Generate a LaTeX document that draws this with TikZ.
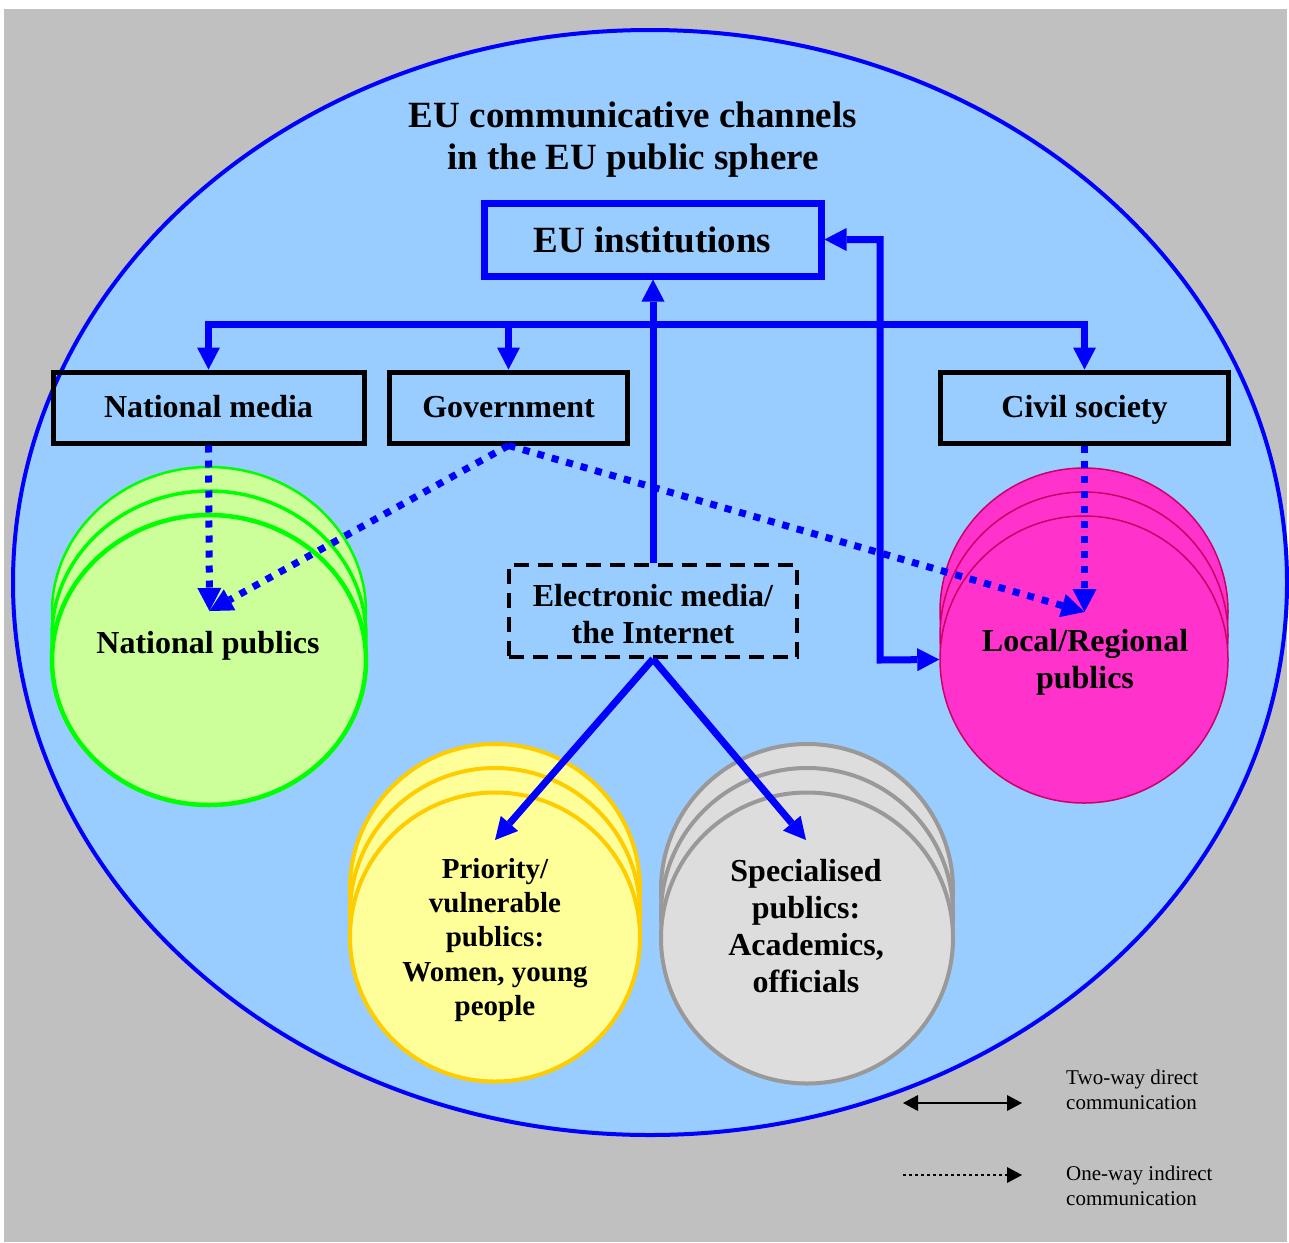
\documentclass[tikz,border=0pt]{standalone}
\usepackage{fontspec}
\setmainfont{Liberation Serif}
\usetikzlibrary{arrows.meta,shapes.geometric}
\definecolor{bggray}{HTML}{C0C0C0}
\definecolor{skyfill}{HTML}{99CCFF}
\definecolor{eublue}{HTML}{0000FF}
\definecolor{grfill}{HTML}{CCFF99}
\definecolor{grline}{HTML}{00FF00}
\definecolor{mgfill}{HTML}{FF33CC}
\definecolor{mgline}{HTML}{CC0066}
\definecolor{ylfill}{HTML}{FFFF99}
\definecolor{ylline}{HTML}{FFCC00}
\definecolor{gyfill}{HTML}{DDDDDD}
\definecolor{gyline}{HTML}{999999}
\begin{document}
\begin{tikzpicture}[x=1pt,y=-1pt,
  mybox/.style={draw=black, line width=5pt, minimum width=#1, minimum height=71pt,
    inner sep=0pt, font=\fontsize{32}{37}\selectfont\bfseries, text height=19pt, text depth=0pt},
  bigtext/.style={align=center, inner sep=0pt, font=\fontsize{32}{37}\selectfont\bfseries},
  direct/.style={draw=eublue, line width=7pt, -{Triangle[length=22pt,width=23pt,line width=0pt]}},
  twoway/.style={draw=eublue, line width=7pt,
    {Triangle[length=22pt,width=23pt,line width=0pt]}-{Triangle[length=22pt,width=23pt,line width=0pt]}},
  oneway/.style={draw=eublue, line width=7pt, dash pattern=on 7pt off 8pt,
    -{Triangle[length=23pt,width=24pt,line width=0pt]}},
  frontell/.style n args={4}{ellipse, draw=#1, fill=#2, line width=#3, minimum width=#4, inner sep=0pt}
]
\useasboundingbox (0,0) rectangle (1289,1242);
\fill[bggray] (4,9) rectangle (1287,1242);
\draw[eublue, line width=4pt, fill=skyfill] (650,582.5) ellipse [x radius=637, y radius=552.5];

% National publics stack
\draw[grline, fill=grfill, line width=2.5pt] (209,612) ellipse [x radius=157, y radius=145];
\draw[grline, fill=grfill, line width=3.5pt] (209,636) ellipse [x radius=157, y radius=145];
\node[frontell={grline}{grfill}{4.5pt}{314pt}, minimum height=290pt] (np) at (209,660) {};

% Local/Regional publics stack
\draw[mgline, fill=mgfill, line width=1.5pt] (1084,611.5) ellipse [x radius=144, y radius=143.5];
\draw[mgline, fill=mgfill, line width=1.5pt] (1084,635.5) ellipse [x radius=144, y radius=143.5];
\node[frontell={mgline}{mgfill}{1.5pt}{288pt}, minimum height=287pt] (lp) at (1084,659.5) {};

% Priority publics stack
\draw[ylline, fill=ylfill, line width=4pt] (495,888.5) ellipse [x radius=145, y radius=144.5];
\draw[ylline, fill=ylfill, line width=4pt] (495,912.5) ellipse [x radius=145, y radius=144.5];
\node[frontell={ylline}{ylfill}{4pt}{290pt}, minimum height=289pt] (pp) at (495,937) {};

% Specialised publics stack
\draw[gyline, fill=gyfill, line width=4pt] (807,889.5) ellipse [x radius=146, y radius=145.5];
\draw[gyline, fill=gyfill, line width=4pt] (807,913.5) ellipse [x radius=146, y radius=145.5];
\node[frontell={gyline}{gyfill}{4pt}{292pt}, minimum height=291pt] (sp) at (807,938) {};

% Title
\node[align=center, inner sep=0pt, font=\fontsize{37}{42}\selectfont\bfseries] (title) at (633,140)
  {EU communicative channels\\in the EU public sphere};

% Boxes
\node[draw=eublue, line width=7pt, minimum width=337pt, minimum height=73pt, inner sep=0pt,
  font=\fontsize{37}{42}\selectfont\bfseries, text height=26pt, text depth=0pt] (eu) at (652.5,239.5) {EU institutions};
\node[mybox=311pt] (nm) at (208.5,407.5) {National media};
\node[mybox=238pt] (gov) at (508.5,407.5) {Government};
\node[mybox=288pt] (cs) at (1084.5,407.5) {Civil society};
\node[draw=black, line width=4pt, dash pattern=on 15pt off 9pt, minimum width=288pt, minimum height=92pt,
  inner sep=0pt] (em) at (653,611) {};
\node[bigtext] (emt) at (653,614.5) {Electronic media/\\the Internet};

% Circle texts
\node[bigtext, text height=22pt, text depth=0pt] (npt) at (208,642) {National publics};
\node[bigtext] (lpt) at (1085,662) {Local/Regional\\publics};
\node[align=center, inner sep=0pt, font=\fontsize{29}{34.25}\selectfont\bfseries] (ppt) at (495,940)
  {Priority/\\vulnerable\\publics:\\Women, young\\people};
\node[bigtext] (spt) at (806,926) {Specialised\\publics:\\Academics,\\officials};

% Connectors
\coordinate (jn) at (653,324);
\coordinate (bend) at (880,660);
\coordinate (npA) at (209.5,611);
\coordinate (lpA) at (1084.5,612);
\coordinate (ppA) at (495,840);
\coordinate (spA) at (806,840);

\draw[oneway] (nm.south) -- (npA);
\draw[oneway] (gov.south) -- (npA);
\draw[oneway] (gov.south) -- (lpA);
\draw[oneway] (cs.south) -- (lpA);

\draw[direct] (em.north) -- (em.north |- eu.south);
\draw[direct] (jn) -| (nm.north);
\draw[direct] (jn) -| (gov.north);
\draw[direct] (jn) -| (cs.north);
\draw[twoway] (eu.east) -| (bend) -- (lp.west);
\draw[direct] (em.south) -- (ppA);
\draw[direct] (em.south) -- (spA);

% Legend
\coordinate (la) at (903,1103);
\coordinate (lb) at (1022,1103);
\coordinate (lc) at (903,1175);
\coordinate (ld) at (1022,1175);
\draw[black, line width=2.5pt,
  {Triangle[length=15pt,width=16pt,line width=0pt]}-{Triangle[length=15pt,width=16pt,line width=0pt]}] (la) -- (lb);
\draw[black, line width=2.5pt, dash pattern=on 2.5pt off 3.5pt,
  -{Triangle[length=15pt,width=16pt,line width=0pt]}] (lc) -- (ld);
\node[anchor=west, align=left, inner sep=0pt, font=\fontsize{21}{25}\selectfont] (lt1) at (1066,1090)
  {Two-way direct\\communication};
\node[anchor=west, align=left, inner sep=0pt, font=\fontsize{21}{25}\selectfont] (lt2) at (1066,1186)
  {One-way indirect\\communication};
\end{tikzpicture}
\end{document}
